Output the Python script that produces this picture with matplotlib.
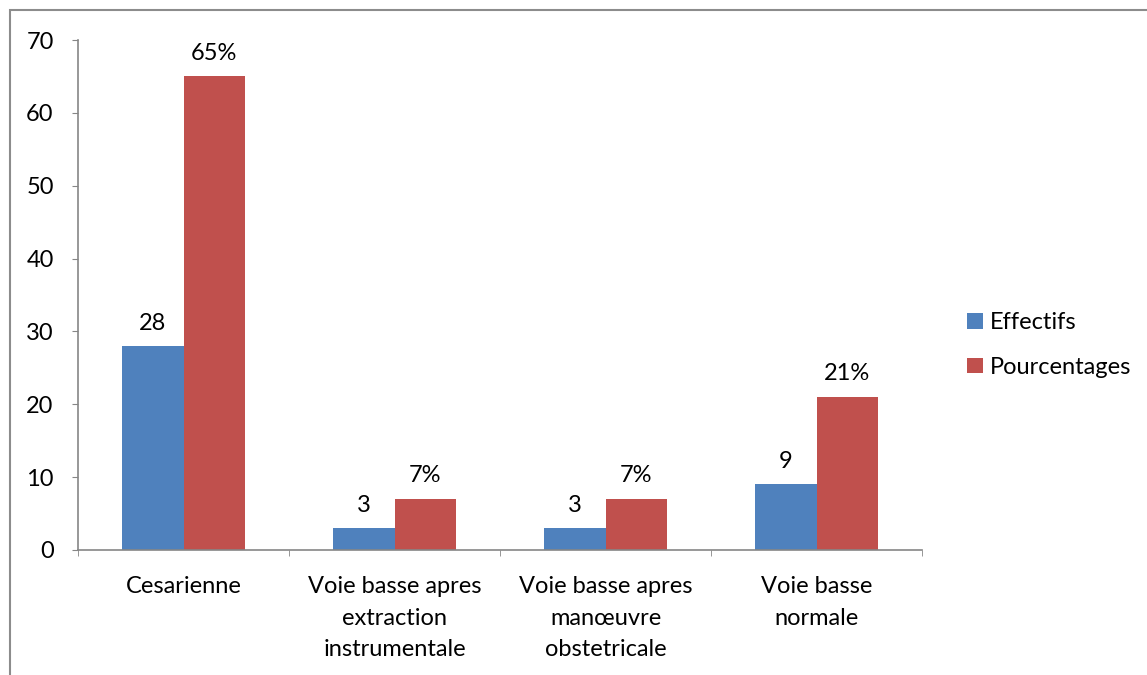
import matplotlib
matplotlib.use("Agg")
import matplotlib.pyplot as plt
from matplotlib.patches import Rectangle
import numpy as np

categories = ["Cesarienne", "Voie basse apres\nextraction\ninstrumentale",
              "Voie basse apres\nmanœuvre\nobstetricale", "Voie basse\nnormale"]
effectifs = [28, 3, 3, 9]
pourcentages = [65, 7, 7, 21]
eff_labels = ["28", "3", "3", "9"]
pct_labels = ["65%", "7%", "7%", "21%"]
yticks = [0, 10, 20, 30, 40, 50, 60, 70]

plt.rcParams['font.family'] = ['Lato', 'DejaVu Sans']
W, H = 1147, 675
fig = plt.figure(figsize=(W/100, H/100), dpi=100)
ax = fig.add_axes([78/W, (H-550)/H, (922-78)/W, (550-40)/H])

blue = "#4F81BD"
red = "#C0504D"
x = np.arange(len(categories))
bw = 0.29
b1 = ax.bar(x - bw/2, effectifs, bw, color=blue, label="Effectifs")
b2 = ax.bar(x + bw/2, pourcentages, bw, color=red, label="Pourcentages")
fs = 17
for rect, lab in zip(b1, eff_labels):
    ax.annotate(lab, (rect.get_x() + rect.get_width()/2, rect.get_height()),
                xytext=(0, 9), textcoords="offset points", ha="center", va="bottom", fontsize=fs)
for rect, lab in zip(b2, pct_labels):
    ax.annotate(lab, (rect.get_x() + rect.get_width()/2, rect.get_height()),
                xytext=(0, 9), textcoords="offset points", ha="center", va="bottom", fontsize=fs)

ax.set_xlim(-0.5, len(categories) - 0.5)
ax.set_ylim(0, 70)
ax.set_yticks(yticks)
ax.tick_params(axis='y', labelsize=fs, length=4.5, color="#868686", pad=13)
ax.set_xticks(x)
ax.set_xticklabels(categories, fontsize=fs, linespacing=1.6)
ax.tick_params(axis='x', length=0, pad=19)
ax.set_xticks(np.arange(len(categories) + 1) - 0.5, minor=True)
ax.tick_params(axis='x', which='minor', length=4.5, color="#868686")
for s in ["top", "right"]:
    ax.spines[s].set_visible(False)
for s in ["left", "bottom"]:
    ax.spines[s].set_color("#868686")
    ax.spines[s].set_linewidth(1.2)

leg = fig.legend(handles=[b1, b2], labels=["Effectifs", "Pourcentages"],
                 loc="center left", bbox_to_anchor=(946/W, 1 - 345/H), frameon=False,
                 fontsize=fs, handlelength=0.65, handleheight=0.65, handletextpad=0.3,
                 labelspacing=1.0)

fig.patches.append(Rectangle((10/W, -0.1), 1.2, 1.1 - 10/H, transform=fig.transFigure,
                             fill=False, edgecolor="#8c8c8c", linewidth=1.5))
fig.savefig("out.png", dpi=100)
